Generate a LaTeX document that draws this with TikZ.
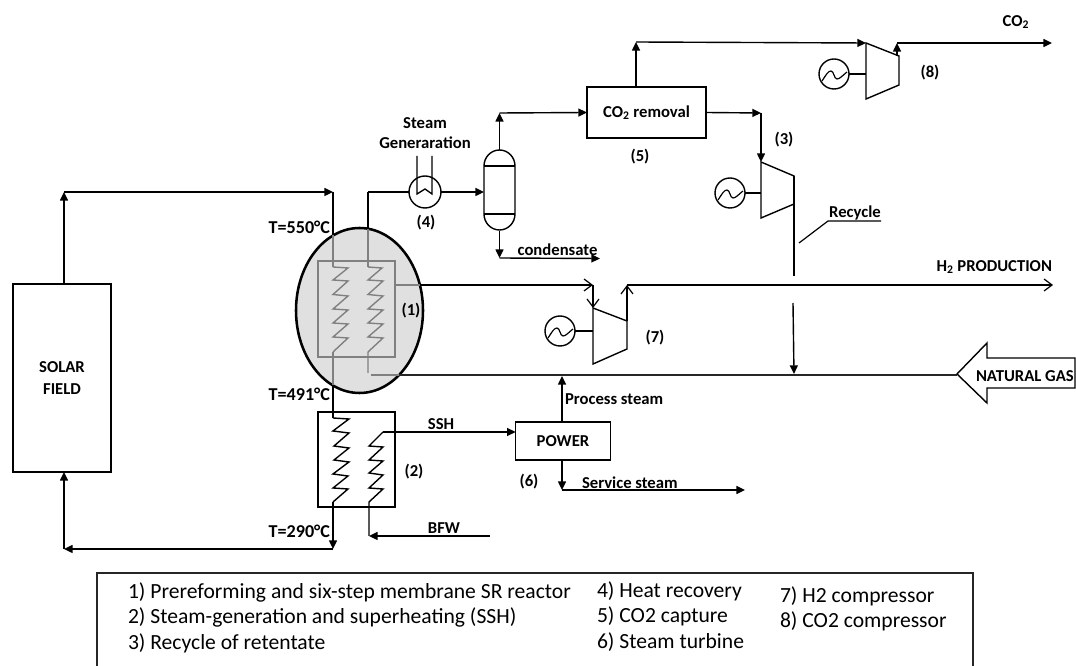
\documentclass[tikz,border=0pt]{standalone}
\usepackage{fontspec}
\setmainfont{Carlito}
\usetikzlibrary{arrows.meta,shapes.geometric}
\definecolor{ingray}{HTML}{808080}
\definecolor{ellfill}{HTML}{E0E0E0}
\tikzset{
  ln/.style={line width=1.05pt,black,line join=miter},
  gln/.style={line width=1.05pt,ingray},
  fl/.style={ln,-{Triangle[length=6.5pt,width=6pt]}},
  ofl/.style={line width=0.9pt,black,-{Straight Barb[length=6pt,width=9pt,line width=0.9pt]}},
  box/.style={draw=black,line width=1.05pt,inner sep=0pt,outer sep=0pt,align=center,font=\bfseries\fontsize{12.5}{14}\selectfont},
  lab/.style={inner sep=0pt,outer sep=0pt,font=\bfseries\fontsize{12.5}{14}\selectfont},
  tlab/.style={lab,anchor=east,font=\bfseries\fontsize{13.6}{15}\selectfont},
  leg/.style={inner sep=0pt,outer sep=0pt,anchor=base west,font=\fontsize{16.2}{18}\selectfont},
  circ/.style={draw=black,line width=1.05pt,circle,minimum size=22.5pt,inner sep=0pt,outer sep=0pt},
}
\newcommand{\squig}[2]{\draw[line width=0.9pt] (#1-12,#2+7) .. controls (#1-8,#2+1) and (#1-6,#2-3) .. (#1-3,#2-3) .. controls (#1,#2-3) and (#1,#2+5) .. (#1+3,#2+5) .. controls (#1+6,#2+5) and (#1+9,#2+1) .. (#1+13,#2-2);}
\begin{document}
\begin{tikzpicture}[x=0.75pt,y=-0.75pt]
\useasboundingbox (0,0) rectangle (1076,666);
% reactor
\node[ellipse,draw=black,fill=ellfill,line width=1.9pt,minimum width=95.25pt,minimum height=123.75pt,inner sep=0pt,outer sep=0pt] (reactor) at (359.5,310.5) {};
\node[draw=ingray,line width=1.05pt,minimum width=57.75pt,minimum height=72pt,inner sep=0pt,outer sep=0pt] (membrane) at (356.5,309) {};
\node[box,minimum width=57.75pt,minimum height=71.25pt] (ssh) at (356.5,459.5) {};
\node[box,minimum width=73.5pt,minimum height=141pt] (solar) at (62,378) {SOLAR\\[3pt]FIELD};
\node[box,minimum width=89.25pt,minimum height=38.25pt] (co2box) at (646.5,112.5) {CO\textsubscript{2} removal};
\node[box,minimum width=71pt,minimum height=28.5pt] (power) at (563,441) {POWER};
% coordinates
\coordinate (a1) at (64,192);
\coordinate (a2) at (333,192);
\coordinate (a3) at (333,235.5);
\coordinate (a4) at (333,267);
\coordinate (a5) at (333,352);
\coordinate (a6) at (333,385.5);
\coordinate (a7) at (333,418);
\coordinate (a8) at (333,502);
\coordinate (a9) at (333,549);
\coordinate (a10) at (64,549);
\coordinate (b1) at (368,267);
\coordinate (b2) at (368,228.8);
\coordinate (b3) at (368,192);
\coordinate (b4) at (368,352);
\coordinate (b5) at (368,373);
% solar loop
\draw[fl] (solar.north -| a1) -- (a1);
\draw[fl] (a1) -- (a2);
\draw[ln] (a2) -- (a3);
\draw[gln] (a3) -- (a4);
\draw[gln] (a4) -- (348,268) -- (333,280) -- (348,281) -- (333,294.5) -- (348,296) -- (333,309) -- (348,310) -- (333,323) -- (348,324) -- (333,337) -- (348,338) -- (a5);
\draw[gln] (a5) -- (a6);
\draw[ln] (a6) -- (a7);
\draw[ln] (a7) -- (349,419) -- (333,431) -- (349,433) -- (334,446) -- (349,448) -- (334,460) -- (349,462) -- (333,474) -- (348,476) -- (333,488) -- (348,489) -- (a8);
\draw[fl] (a8) -- (a9);
\draw[fl] (a9) -- (a10);
\draw[fl] (a10) -- (solar.south -| a10);
% second coil in reactor
\draw[ln] (b3) -- (b2);
\draw[gln] (b2) -- (b1);
\draw[gln] (b1) -- (382,268) -- (368,280) -- (383,281) -- (368,294.5) -- (383,296) -- (368,309) -- (383,310) -- (368,323) -- (383,324) -- (368,337) -- (383,338) -- (b4) -- (b5);
% heat exchanger
\node[circ,minimum size=24pt] (hx) at (425,192) {};
\draw[ln] (b3) -- (hx.west);
\coordinate (hx1) at (417,156);
\coordinate (hx2) at (432,156);
\draw[line width=1pt] (hx1) -- (417,194) -- (425,189) -- (432,194) -- (hx2);
% vessel
\coordinate (vt) at (499.5,150);
\coordinate (vb) at (499.5,227);
\coordinate (vw) at (484,192);
\draw[ln] (484,166) arc[start angle=180,end angle=0,x radius=11.625pt,y radius=12pt] -- (515,214) arc[start angle=0,end angle=-180,x radius=11.625pt,y radius=12pt] -- cycle;
\draw[ln] (484,166) -- (515,166) (484,214) -- (515,214);
\draw[fl] (hx.east) -- (vw);
\coordinate (c1) at (499.5,113);
\coordinate (c2) at (499.5,231);
\coordinate (c3) at (499.5,258);
\coordinate (c4) at (600,258.5);
\draw[fl] (vt) -- (c1);
\draw[fl] (c1) -- (co2box.west);
\draw[fl] (c2) -- (c3);
\draw[fl] (c3) -- (c4);
% top branch
\coordinate (d1) at (636,42);
\coordinate (d2) at (866,43);
\draw[fl] (co2box.north -| d1) -- (d1);
\draw[fl] (d1) -- (d2);
% compressor 8
\draw[ln] (866,43) -- coordinate (k8) (899,56) -- (899,85) -- (866,99) -- cycle;
\node[circ] (gen8) at (834,74) {};
\squig{834}{74}
\draw[ln] (gen8.east) -- (866,74);
\coordinate (d3) at (897,43);
\coordinate (d4) at (1052,43);
\draw[fl] (897,56) -- (d3);
\draw[fl] (d3) -- (d4);
% compressor 3
\coordinate (e1) at (761,113);
\coordinate (e2) at (761,162);
\coordinate (e3) at (794,176);
\coordinate (e4) at (794,276);
\draw[fl] (co2box.east) -- (e1);
\draw[fl] (e1) -- (e2);
\draw[ln] (e2) -- (e3) -- (794,204) -- (761,218) -- cycle;
\node[circ] (gen3) at (730,193) {};
\squig{730}{193}
\draw[ln] (gen3.east) -- (761,193);
\draw[ln] (e3) -- (e4);
% recycle
\node[lab] (recycle) at (855,213) {Recycle};
\coordinate (r1) at (881,221);
\coordinate (r2) at (828,221);
\coordinate (r3) at (799,243);
\draw[line width=0.9pt] (r1) -- (r2) -- (r3);
\coordinate (f1) at (793,303);
\coordinate (f2) at (794,374);
\draw[fl] (f1) -- (f2);
% H2 line
\coordinate (g0) at (395,285);
\coordinate (g1) at (420,285);
\coordinate (g2) at (593,285);
\coordinate (g3) at (593,308);
\draw[gln] (g0) -- (g1);
\draw[ofl] (g1) -- (g2);
\draw[ofl] (g2) -- (g3);
% compressor 7
\coordinate (g4) at (627,321);
\coordinate (g5) at (627,285);
\coordinate (g6) at (1053,285);
\draw[ln] (g3) -- (g4) -- (627,349) -- (593,364) -- cycle;
\node[circ] (gen7) at (560,331) {};
\squig{560}{331}
\draw[ln] (gen7.east) -- (593,331);
\draw[ofl] (g4) -- (g5);
\draw[ofl] (g5) -- (g6);
% natural gas line
\coordinate (n0) at (371,375);
\coordinate (n1) at (399,375);
\coordinate (n2) at (957,375);
\draw[gln] (n0) -- (n1);
\draw[line width=1.4pt,black!85] (n1) -- (n2);
\draw[ln,fill=white] (957,374) -- (987,343) -- (987,358) -- (1075,358) -- (1075,388) -- (987,388) -- (987,403) -- cycle;
\node[lab,anchor=west] (ng) at (976,376) {NATURAL GAS};
% SSH, BFW
\coordinate (h1) at (383,432);
\draw[fl] (h1) -- (power.west |- h1);
\draw[ln] (h1) -- (369,446) -- (383,447) -- (369,460) -- (383,461) -- (369,473) -- (383,475) -- (369,488) -- (383,489) -- (369,502) -- (369,536);
\coordinate (h2) at (490,536);
\coordinate (h3) at (369,536);
\draw[fl] (h2) -- (h3);
% power
\coordinate (p1) at (562,376);
\coordinate (p2) at (562,490);
\coordinate (p3) at (745,490);
\draw[fl] (power.north -| p1) -- (p1);
\draw[fl] (power.south -| p2) -- (p2);
\draw[fl] (p2) -- (p3);
% labels
\node[lab] (t1) at (425,123) {Steam};
\node[lab] (t2) at (425,143) {Generaration};
\node[lab] (n4) at (426,223) {(4)};
\node[tlab] (t550) at (330,227) {T=550°C};
\node[tlab] (t491) at (330,394) {T=491°C};
\node[tlab] (t290) at (330,531) {T=290°C};
\node[lab] (n1l) at (411,311) {(1)};
\node[lab] (n2l) at (414,472) {(2)};
\node[lab] (n3l) at (784,140) {(3)};
\node[lab] (n5l) at (640,157) {(5)};
\node[lab] (n6l) at (529,482) {(6)};
\node[lab] (n7l) at (655,338) {(7)};
\node[lab] (n8l) at (930,73) {(8)};
\node[lab] (cond) at (557.5,250) {condensate};
\node[lab] (co2l) at (1016,22) {CO\textsubscript{2}};
\node[lab,anchor=east] (h2l) at (1052,267) {H\textsubscript{2} PRODUCTION};
\node[lab,anchor=west] (ps) at (565,399) {Process steam};
\node[lab,anchor=west] (ss) at (582,483) {Service steam};
\node[lab] (sshl) at (441,424) {SSH};
\node[lab] (bfw) at (444,528) {BFW};
% legend
\coordinate (l1) at (97,666);
\coordinate (l2) at (97,573);
\coordinate (l3) at (973,573);
\coordinate (l4) at (973,666);
\draw[line width=1.05pt,black!85] (l1) -- (l2) -- (l3) -- (l4);
\node[leg] (e1l) at (128,599) {1) Prereforming and six-step membrane SR reactor};
\node[leg] (e2l) at (128,624) {2) Steam-generation and superheating (SSH)};
\node[leg] (e3l) at (128,650) {3) Recycle of retentate};
\node[leg] (e4l) at (597,598) {4) Heat recovery};
\node[leg] (e5l) at (597,623) {5) CO2 capture};
\node[leg] (e6l) at (597,649) {6) Steam turbine};
\node[leg] (e7l) at (780,603) {7) H2 compressor};
\node[leg] (e8l) at (780,628) {8) CO2 compressor};
\end{tikzpicture}
\end{document}
